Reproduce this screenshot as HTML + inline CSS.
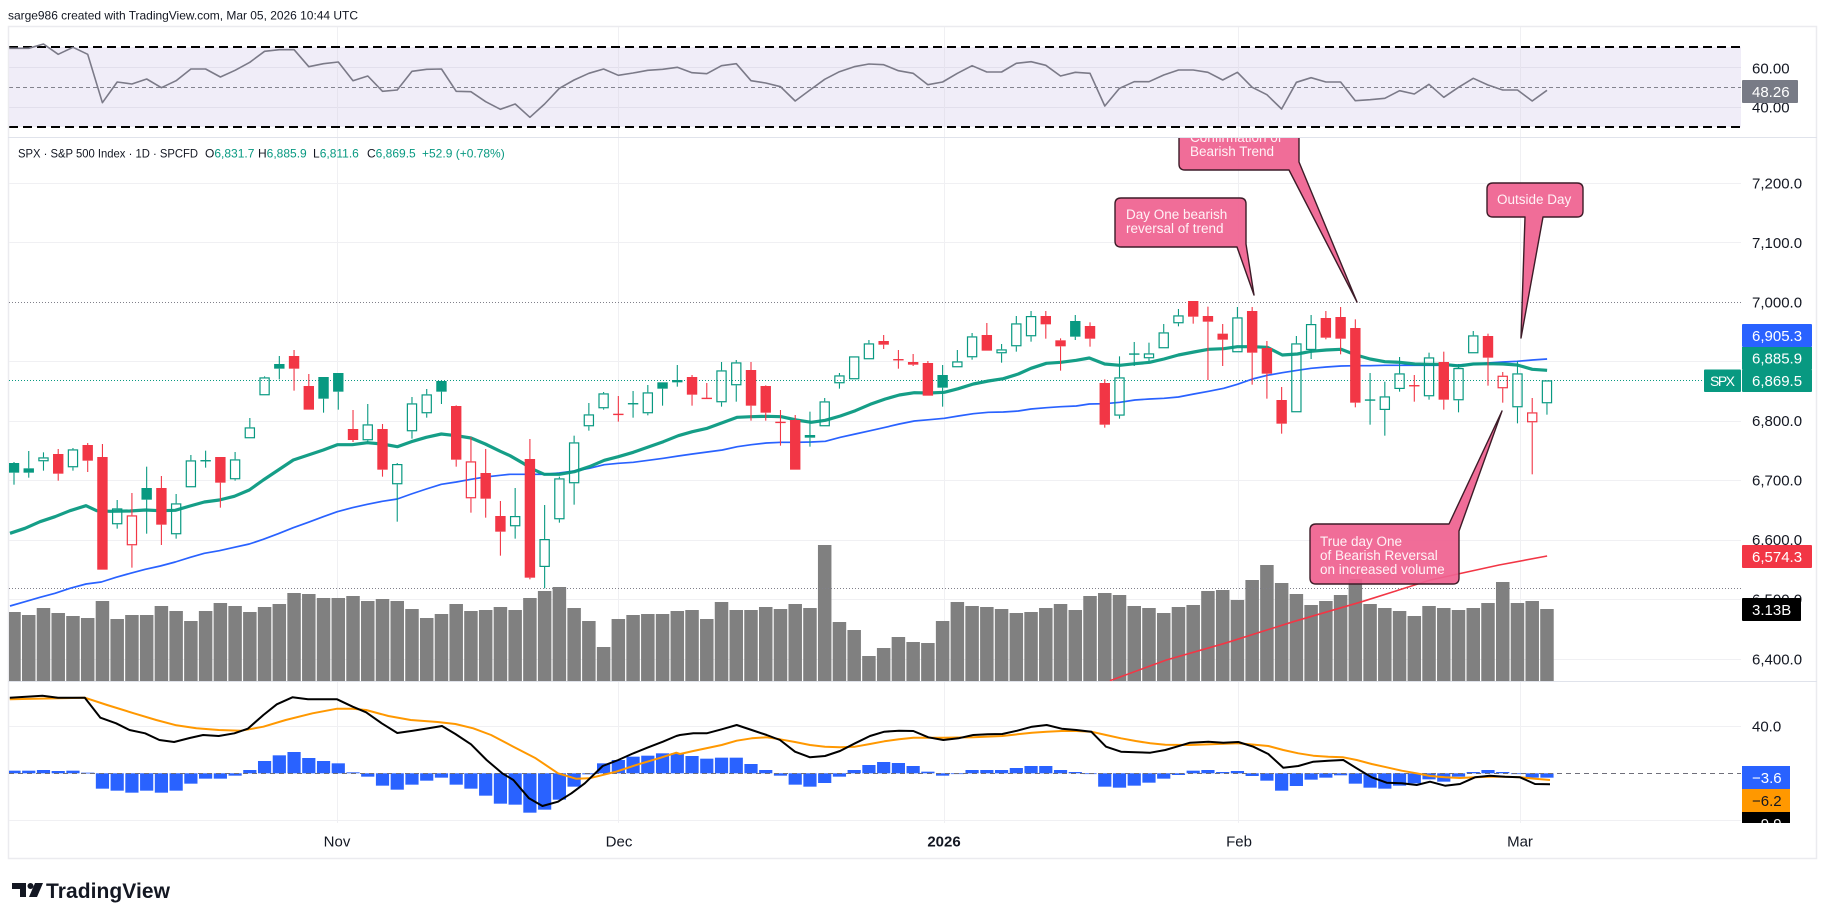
<!DOCTYPE html>
<html><head><meta charset="utf-8">
<style>
html,body{margin:0;padding:0;background:#fff;}
body{width:1827px;height:920px;overflow:hidden;}
svg{display:block;font-family:"Liberation Sans",Arial,sans-serif;}
</style></head><body>
<svg id="c" width="1827" height="920" viewBox="0 0 1827 920" xmlns="http://www.w3.org/2000/svg">
<rect width="1827" height="920" fill="#fff"/>
<defs>
<clipPath id="cpR"><rect x="9" y="27" width="1732" height="110"/></clipPath>
<clipPath id="cpM"><rect x="9" y="138" width="1732" height="543"/></clipPath>
<clipPath id="cpD"><rect x="9" y="682" width="1732" height="141"/></clipPath>
<clipPath id="cpB"><rect x="1742" y="812" width="60" height="11"/></clipPath>
</defs>

<text x="8" y="19.5" font-size="12" fill="#131722" textLength="350">sarge986 created with TradingView.com, Mar 05, 2026 10:44 UTC</text>

<!-- vertical grid -->
<g stroke="#f0f0f3" stroke-width="1">
<line x1="337.5" y1="27" x2="337.5" y2="823"/>
<line x1="618.5" y1="27" x2="618.5" y2="823"/>
<line x1="944.5" y1="27" x2="944.5" y2="823"/>
<line x1="1238.5" y1="27" x2="1238.5" y2="823"/>
<line x1="1520.5" y1="27" x2="1520.5" y2="823"/>
</g>

<!-- RSI pane -->
<g clip-path="url(#cpR)">
<rect x="9" y="47" width="1732" height="80" fill="#f0edf8"/>
<line x1="9" y1="67.5" x2="1741" y2="67.5" stroke="#e2dfec"/>
<line x1="9" y1="107.5" x2="1741" y2="107.5" stroke="#e2dfec"/>
<line x1="337.5" y1="47" x2="337.5" y2="127" stroke="#e6e3ee"/>
<line x1="618.5" y1="47" x2="618.5" y2="127" stroke="#e6e3ee"/>
<line x1="944.5" y1="47" x2="944.5" y2="127" stroke="#e6e3ee"/>
<line x1="1238.5" y1="47" x2="1238.5" y2="127" stroke="#e6e3ee"/>
<line x1="1520.5" y1="47" x2="1520.5" y2="127" stroke="#e6e3ee"/>
<line x1="9" y1="87.5" x2="1741" y2="87.5" stroke="#83838e" stroke-dasharray="4 3"/>
<line x1="9" y1="47" x2="1741" y2="47" stroke="#000" stroke-width="2" stroke-dasharray="9 5"/>
<line x1="9" y1="127" x2="1741" y2="127" stroke="#000" stroke-width="2" stroke-dasharray="9 5"/>
<polyline id="rsi" fill="none" stroke="#7b7a88" stroke-width="1.6" stroke-linejoin="round"/>
</g>

<!-- frame & separators -->
<rect x="8.5" y="26.5" width="1808" height="832" fill="none" stroke="#ebebef" stroke-width="1.5"/>
<line x1="8" y1="137.5" x2="1817" y2="137.5" stroke="#e0e3eb"/>
<line x1="8" y1="681.5" x2="1817" y2="681.5" stroke="#e0e3eb"/>

<!-- main pane -->
<g clip-path="url(#cpM)">
<g stroke="#f0f0f3" stroke-width="1">
<line x1="9" y1="183.5" x2="1741" y2="183.5"/>
<line x1="9" y1="242.5" x2="1741" y2="242.5"/>
<line x1="9" y1="361.5" x2="1741" y2="361.5"/>
<line x1="9" y1="421.5" x2="1741" y2="421.5"/>
<line x1="9" y1="480.5" x2="1741" y2="480.5"/>
<line x1="9" y1="540.5" x2="1741" y2="540.5"/>
<line x1="9" y1="599.5" x2="1741" y2="599.5"/>
<line x1="9" y1="659.5" x2="1741" y2="659.5"/>
</g>
<g id="vol"></g>
<line x1="9" y1="302.5" x2="1741" y2="302.5" stroke="#80808a" stroke-dasharray="1 2"/>
<line x1="9" y1="588.5" x2="1741" y2="588.5" stroke="#80808a" stroke-dasharray="1 2"/>
<line x1="9" y1="380.5" x2="1704" y2="380.5" stroke="#089981" stroke-dasharray="1 2"/>
<polyline id="blue" fill="none" stroke="#2962FF" stroke-width="1.7" stroke-linejoin="round"/>
<polyline id="green" fill="none" stroke="#089981" stroke-width="3.2" stroke-linejoin="round" stroke-opacity="0.95"/>
<polyline id="red" fill="none" stroke="#F23645" stroke-width="1.6" stroke-linejoin="round"/>
<g id="candles"></g>

<!-- callouts -->
<g fill="#ef6290" fill-opacity="0.93" stroke="#3d1c28" stroke-width="1.4" stroke-linejoin="round">
<path d="M1185,110 H1293 Q1299,110 1299,116 V162 L1357,302 L1289,170 H1185 Q1179,170 1179,164 V116 Q1179,110 1185,110 Z"/>
<path d="M1121,198 H1240 Q1246,198 1246,204 V244 L1254,295 L1237,247 H1121 Q1115,247 1115,241 V204 Q1115,198 1121,198 Z"/>
<path d="M1493,183 H1577 Q1583,183 1583,189 V211 Q1583,217 1577,217 H1543 L1521,338 L1525,217 H1493 Q1487,217 1487,211 V189 Q1487,183 1493,183 Z"/>
<path d="M1316,524 H1449 L1502,411 L1459,531 V578 Q1459,584 1453,584 H1316 Q1310,584 1310,578 V530 Q1310,524 1316,524 Z"/>
</g>
<g font-size="13.5" fill="#fff2f6">
<text x="1190" y="142">Confirmation of</text>
<text x="1190" y="156">Bearish Trend</text>
<text x="1126" y="219">Day One bearish</text>
<text x="1126" y="233">reversal of trend</text>
<text x="1497" y="204">Outside Day</text>
<text x="1320" y="546">True day One</text>
<text x="1320" y="560">of Bearish Reversal</text>
<text x="1320" y="574">on increased volume</text>
</g>
</g>

<!-- legend -->
<text x="18" y="157.5" font-size="12" fill="#131722" textLength="180" lengthAdjust="spacingAndGlyphs">SPX · S&amp;P 500 Index · 1D · SPCFD</text>
<text y="157.5" font-size="12" fill="#131722"><tspan x="205">O</tspan><tspan fill="#089981">6,831.7</tspan><tspan x="258">H</tspan><tspan fill="#089981">6,885.9</tspan><tspan x="313">L</tspan><tspan fill="#089981">6,811.6</tspan><tspan x="367">C</tspan><tspan fill="#089981">6,869.5</tspan><tspan x="422" fill="#089981">+52.9 (+0.78%)</tspan></text>

<!-- MACD pane -->
<g clip-path="url(#cpD)">
<line x1="9" y1="726.5" x2="1741" y2="726.5" stroke="#f0f0f3"/>
<line x1="9" y1="820.5" x2="1741" y2="820.5" stroke="#f0f0f3"/>
<g id="hist"></g>
<line x1="9" y1="773.5" x2="1741" y2="773.5" stroke="#6f6f7a" stroke-dasharray="5 4"/>
<polyline id="sig" fill="none" stroke="#FF9800" stroke-width="2" stroke-linejoin="round"/>
<polyline id="macd" fill="none" stroke="#000" stroke-width="2" stroke-linejoin="round"/>
</g>

<!-- axis labels -->
<g font-size="15" fill="#131722">
<text x="1752" y="73.5">60.00</text>
<text x="1752" y="112.5">40.00</text>
<text x="1752" y="188.5">7,200.0</text>
<text x="1752" y="248">7,100.0</text>
<text x="1752" y="307.5">7,000.0</text>
<text x="1752" y="426">6,800.0</text>
<text x="1752" y="485.5">6,700.0</text>
<text x="1752" y="545">6,600.0</text>
<text x="1752" y="604.5">6,500.0</text>
<text x="1752" y="664.5">6,400.0</text>
<text x="1752" y="731.5">40.0</text>
</g>

<!-- price tags -->
<rect x="1742" y="80" width="56" height="23" fill="#787b86" rx="1"/>
<text x="1752" y="97" font-size="15" fill="#fff">48.26</text>

<rect x="1742" y="324" width="70" height="23" fill="#2962FF" rx="1"/>
<text x="1752" y="341" font-size="15" fill="#fff">6,905.3</text>
<rect x="1742" y="347" width="70" height="22.5" fill="#089981"/>
<text x="1752" y="363.5" font-size="15" fill="#fff">6,885.9</text>
<rect x="1742" y="369.5" width="70" height="22.5" fill="#089981" rx="1"/>
<text x="1752" y="386" font-size="15" fill="#fff">6,869.5</text>
<rect x="1704" y="369.5" width="37" height="22.5" fill="#089981" rx="1"/>
<text x="1710" y="386" font-size="14" fill="#fff" textLength="25">SPX</text>

<rect x="1742" y="545" width="70" height="23" fill="#F23645" rx="1"/>
<text x="1752" y="562" font-size="15" fill="#fff">6,574.3</text>
<rect x="1742" y="598" width="59" height="23" fill="#000" rx="1"/>
<text x="1752" y="615" font-size="15" fill="#fff">3.13B</text>

<rect x="1742" y="766" width="48" height="23" fill="#2962FF"/>
<text x="1752" y="783" font-size="15" fill="#fff">−3.6</text>
<rect x="1742" y="789" width="48" height="23" fill="#FF9800"/>
<text x="1752" y="806" font-size="15" fill="#131722">−6.2</text>
<g clip-path="url(#cpB)">
<rect x="1742" y="812" width="48" height="23" fill="#000"/>
<text x="1752" y="829" font-size="15" fill="#fff">−9.9</text>
</g>

<!-- time axis -->
<g font-size="15" fill="#131722" text-anchor="middle">
<text x="337" y="846.5">Nov</text>
<text x="619" y="846.5">Dec</text>
<text x="944" y="846.5" font-weight="bold">2026</text>
<text x="1239" y="846.5">Feb</text>
<text x="1520" y="846.5">Mar</text>
</g>

<!-- logo -->
<g fill="#131722">
<path d="M12,883 H26 V897 H20 V889 H12 Z"/>
<circle cx="30.5" cy="886" r="3"/>
<path d="M35,883 H43 L37,897 H29 Z"/>
</g>
<text x="46" y="898" font-size="21" font-weight="bold" fill="#131722" textLength="124">TradingView</text>
</svg>

<script>
(function(){
var NS="http://www.w3.org/2000/svg";
function el(t,a,p){var e=document.createElementNS(NS,t);for(var k in a)e.setAttribute(k,a[k]);p.appendChild(e);return e;}
function X(i){return 14+14.74*i;}
function Y(z){return 290+z/3;}
function pts(a){return a.map(function(p){return p[0].toFixed(1)+","+p[1].toFixed(1);}).join(" ");}

var C=[
["gf",516,519,548,584],["gf",483,535,548,563],["gh",487,502,514,542],["rf",477,492,551,572],["gh",474,478,532,542],
["rf",459,465,512,546],["rf",462,501,839,839],["gh",630,655,703,716],["rh",609,676,766,833],["gf",530,594,629,731],
["rf",558,594,704,765],["gh",612,640,733,746],["gh",495,511,592,592],["gh",482,511,512,533],["rf",501,501,578,653],
["gh",486,508,568,572],["gh",384,412,445,445],["gh",259,262,316,316],["gf",198,222,236,268],["rf",180,198,236,302],
["rf",252,288,359,359],["gf",261,261,326,368],["gf",249,249,305,359],["rf",360,417,450,456],["gh",342,403,451,456],
["rf",402,417,539,560],["gh",519,522,583,695],["gh",321,340,424,446],["gh",297,313,370,383],["gf",270,273,305,342],
["rf",346,348,509,530],["rh",441,514,625,668],["rf",477,549,626,683],["rf",633,678,725,797],["gh",594,678,709,746],
["rf",447,507,863,868],["gh",645,747,831,895],["gh",560,565,688,698],["gh",437,457,580,644],["gh",339,373,409,422],
["gh",306,310,355,359],["rf",318,372,374,395],["gf",303,340,341,383],["gh",285,307,370,376],["gf",277,277,296,347],
["gh",225,270,277,290],["rf",255,261,314,347],["rf",279,324,327,327],["gh",216,241,337,350],["gh",210,217,286,335],
["rf",216,240,347,392],["rf",286,288,368,392],["rf",360,396,398,467],["rf",375,390,539,539],["gf",365,435,443,470],
["gh",324,334,409,409],["gh",249,256,280,296],["gh",199,199,268,268],["gh",150,160,208,208],["rf",135,153,164,177],
["rf",180,208,212,236],["rf",192,216,224,228],["rf",213,219,317,317],["gf",225,255,293,350],["gh",180,214,232,232],
["gh",129,139,202,209],["rf",99,135,182,182],["gh",162,178,190,218],["gh",78,100,169,185],["gh",63,78,139,155],
["rf",63,78,103,146],["rf",145,151,169,242],["gf",75,93,140,150],["rf",97,108,146,170],["rf",268,279,404,413],
["gh",199,262,377,386],["gf",156,191,193,228],["gh",158,190,205,213],["gh",102,127,175,175],["gh",57,76,100,109],
["rf",33,33,80,101],["rf",50,78,95,270],["rf",102,131,149,228],["gh",51,82,187,187],["rf",51,63,188,284],
["rf",153,174,251,326],["rf",291,330,401,431],["gh",138,160,367,367],["gh",75,102,180,207],["rf",63,84,143,148],
["rf",51,81,146,193],["rf",88,114,338,352],["gf",249,329,333,404],["gh",275,319,360,437],["gh",201,250,297,305],
["rf",255,286,288,335],["gh",188,202,319,329],["rf",185,216,329,359],["gh",222,234,331,367],["gh",123,136,190,190],
["rf",131,138,203,287],["rh",246,257,295,338],["gh",214,250,352,400],["rh",324,367,397,553],["gh",271,271,340,374]
];

var V=[966,975,954,969,978,984,933,987,975,975,948,963,993,963,939,948,966,951,942,909,912,924,924,918,933,927,933,957,984,972,942,963,960,951,960,
924,903,891,954,993,1071,987,975,972,972,963,960,987,936,960,960,951,957,942,954,765,996,1020,1098,1074,1041,1056,1059,993,936,948,951,957,969,
966,954,942,960,918,909,915,948,954,969,951,945,903,900,930,870,825,879,912,945,933,915,867,942,954,963,978,948,954,960,954,939,876,939,933,957];

var vg=document.getElementById('vol');
for(var i=0;i<V.length;i++){
  var x=X(i), yt=Y(V[i]);
  el('rect',{x:(x-6.75).toFixed(2),y:yt.toFixed(2),width:13.5,height:(681-yt).toFixed(2),fill:'#808080'},vg);
}

var cg=document.getElementById('candles');
for(var i=0;i<C.length;i++){
  var c=C[i],t=c[0],x=X(i),col=t[0]=='g'?'#089981':'#F23645';
  var yt=Y(c[1]),ybt=Y(c[2]),ybb=Y(c[3]),ywb=Y(c[4]),w=10.4;
  if(ybb-ybt<1.6){
    el('line',{x1:x,x2:x,y1:yt,y2:ywb,stroke:col,'stroke-width':1.1},cg);
    el('rect',{x:x-w/2,y:ybt-0.3,width:w,height:Math.max(1.4,ybb-ybt),fill:col},cg);
    continue;
  }
  if(ybt-yt>0.3) el('line',{x1:x,x2:x,y1:yt,y2:ybt,stroke:col,'stroke-width':1.1},cg);
  if(ywb-ybb>0.3) el('line',{x1:x,x2:x,y1:ybb,y2:ywb,stroke:col,'stroke-width':1.1},cg);
  if(t[1]=='h') el('rect',{x:x-w/2+0.6,y:ybt+0.6,width:w-1.2,height:ybb-ybt-1.2,fill:'none',stroke:col,'stroke-width':1.2},cg);
  else el('rect',{x:x-w/2,y:ybt,width:w,height:ybb-ybt,fill:col},cg);
}

function z5(a){return a.map(function(p){return [p[0]/3,290+p[1]/3];});}
function z6(a){return a.map(function(p){return [510+p[0]/3,290+p[1]/3];});}
function z7(a){return a.map(function(p){return [1031+(p[0]-35)*0.3429,290+p[1]/3];});}

var G=z5([[30,730],[75,715],[120,695],[165,680],[210,662],[258,647],[290,662],[330,664],[390,663],[436,660],[480,662],[526,661],[570,648],[613,636],[658,630],[703,619],[748,600],[790,570],[835,540],[880,510],[925,495],[970,480],[1012,464],[1057,464],[1102,458],[1147,462],[1192,470],[1234,455],[1279,442],[1324,432],[1369,437],[1413,444],[1456,462],[1501,484]])
.concat(z6([[0,497],[40,520],[62,535],[103,553],[148,553],[193,545],[238,530],[283,511],[325,500],[370,487],[415,471],[460,455],[505,437],[547,425],[592,415],[637,398],[682,382],[724,380],[769,379],[814,380],[859,390],[904,397],[946,391],[991,378],[1036,362],[1081,343],[1126,327],[1168,315],[1213,308],[1258,309],[1303,307],[1345,296],[1390,282],[1435,273],[1480,266],[1525,252]]))
.concat(z7([[35,235],[80,220],[122,217],[167,211],[205,204],[250,222],[294,226],[338,221],[381,217],[423,207],[465,195],[510,186],[553,178],[597,176],[637,170],[681,170],[724,172],[768,195],[812,192],[852,184],[896,180],[939,178],[983,195],[1024,207],[1067,215],[1110,217],[1154,222],[1198,223],[1238,223],[1282,228],[1325,222],[1369,221],[1412,222],[1453,225],[1497,238],[1540,241]]));
document.getElementById('green').setAttribute('points',pts(G));

var B=z5([[30,948],[75,935],[120,922],[165,910],[210,895],[258,882],[304,876],[348,862],[391,850],[436,838],[481,828],[526,816],[571,802],[613,790],[658,782],[703,772],[748,762],[790,748],[835,731],[880,713],[925,697],[970,680],[1012,665],[1057,653],[1102,643],[1147,634],[1192,627],[1234,612],[1279,597],[1324,583],[1369,576],[1413,568],[1456,561],[1501,556]])
.concat(z6([[0,553],[62,553],[103,553],[148,549],[193,543],[238,535],[283,524],[325,520],[370,517],[415,511],[460,505],[505,498],[547,492],[592,486],[637,480],[682,470],[724,464],[769,459],[814,457],[859,457],[904,456],[946,454],[991,442],[1036,432],[1081,422],[1126,412],[1168,402],[1213,393],[1258,389],[1303,385],[1345,378],[1390,371],[1435,367],[1480,366],[1525,363]]))
.concat(z7([[35,357],[80,353],[122,350],[167,348],[205,342],[250,341],[294,337],[338,330],[381,327],[423,325],[465,321],[510,312],[553,304],[597,295],[637,283],[681,267],[724,256],[768,248],[812,241],[852,235],[896,231],[939,228],[983,227],[1024,227],[1067,226],[1110,226],[1154,226],[1198,226],[1238,226],[1282,225],[1325,222],[1369,219],[1412,216],[1453,214],[1497,210],[1540,207]]));
document.getElementById('blue').setAttribute('points',pts(B));

var Rd=z7([[265,1172],[430,1110],[600,1060],[800,995],[1000,935],[1200,870],[1400,825],[1540,798]]);
document.getElementById('red').setAttribute('points',pts(Rd));

var R=[55,55,42,73,52,73,218,156,162,147,173,152,117,117,141,121,97,64,59,59,110,101,96,152,138,184,180,124,118,117,184,185,215,238,222,262,222,175,150,130,117,136,129,121,118,112,128,131,107,101,152,159,170,213,180,148,125,110,
102,104,122,130,164,156,130,107,126,126,100,95,106,138,127,130,228,175,155,155,135,120,120,127,150,127,172,194,237,157,143,156,156,212,209,205,182,192,163,202,172,145,165,180,180,213,181];
var RP=[[9,30+55/3]];
for(var i=0;i<R.length;i++) RP.push([X(i),30+R[i]/3]);
document.getElementById('rsi').setAttribute('points',pts(RP));

var H4=[332,332,330,333,332,338,386,392,398,392,398,392,371,356,356,347,330,303,286,276,294,303,310,337,350,377,389,374,362,353,374,386,407,431,434,458,449,419,380,343,310,300,290,287,280,280,288];
var H9=[236,233,233,252,270,287,314,320,309,290,270,255,246,249,258,275,287,280,270,270,270,264,258,258,270,276,281,320,323,317,308,296,285];
var H10=[272,270,276,273,288,302,332,318,299,293,286,311,323,326,317,310,298,305,290,276,270,276,282,293,293];
var HY=[];
H4.forEach(function(v){HY.push(660+v/3);});
H9.forEach(function(v){HY.push(680+v/3);});
H10.forEach(function(v){HY.push(680+v/3);});
var hg=document.getElementById('hist'), z0=773.3;
for(var i=0;i<HY.length;i++){
  var y=HY[i], top=Math.min(y,z0), h=Math.max(0.8,Math.abs(y-z0));
  el('rect',{x:(X(i)-6.6).toFixed(2),y:top.toFixed(2),width:13.2,height:h.toFixed(2),fill:'#2962FF'},hg);
}

function z4(a){return a.map(function(p){return [p[0]/2.24,660+p[1]/3];});}
function z9(a){return a.map(function(p){return [680+p[0]/3,680+p[1]/3];});}
function z10(a){return a.map(function(p){return [1190+p[0]/3,680+p[1]/3];});}

var M=z4([[22,113],[95,107],[130,113],[190,113],[225,173],[260,190],[290,210],[325,220],[357,240],[390,246],[425,234],[455,225],[490,228],[525,220],[555,206],[590,165],[620,133],[655,112],[690,118],[720,118],[755,118],[790,140],[820,157],[855,190],[890,219],[925,212],[960,205],[990,198],[1020,222],[1055,253],[1090,300],[1125,340],[1150,360],[1185,415],[1215,438],[1250,425],[1280,400],[1310,370],[1350,318],[1385,300],[1415,282],[1450,263],[1485,245],[1515,228]])
.concat(z9([[0,165],[40,160],[80,160],[125,148],[170,135],[215,150],[260,165],[300,180],[345,215],[390,232],[435,228],[480,213],[525,190],[570,168],[613,155],[657,152],[700,153],[745,172],[790,180],[835,175],[880,165],[923,163],[967,162],[1012,152],[1056,140],[1100,135],[1145,146],[1189,150],[1234,155],[1278,200],[1323,215],[1367,217],[1411,218],[1456,210],[1500,197]]))
.concat(z10([[0,188],[55,185],[100,188],[145,186],[190,200],[235,222],[280,263],[325,258],[370,245],[415,242],[460,240],[500,265],[545,292],[590,308],[635,310],[680,315],[720,305],[765,317],[810,312],[855,292],[900,287],[945,290],[990,292],[1035,312],[1080,313]]));
document.getElementById('macd').setAttribute('points',pts(M));

var S=z4([[22,118],[190,113],[240,135],[300,160],[350,180],[395,196],[440,205],[490,210],[540,212],[590,200],[640,180],[700,160],[755,146],[790,146],[820,150],[870,168],[920,180],[980,186],[1020,192],[1060,205],[1100,225],[1150,260],[1200,295],[1250,340],[1290,356],[1320,355],[1380,335],[1430,313],[1480,293],[1515,278]])
.concat(z9([[0,222],[40,213],[125,195],[170,182],[215,175],[260,172],[300,178],[345,186],[390,195],[435,200],[480,202],[525,200],[570,192],[613,184],[657,178],[700,173],[790,173],[880,172],[967,168],[1012,163],[1056,158],[1100,155],[1145,153],[1189,153],[1234,155],[1278,165],[1323,175],[1367,183],[1411,190],[1456,194]]))
.concat(z10([[0,195],[145,190],[235,198],[280,210],[325,220],[370,227],[415,230],[460,232],[500,240],[545,252],[590,262],[635,272],[680,280],[720,288],[765,292],[810,294],[855,292],[900,290],[945,290],[990,292],[1035,296],[1080,300]]));
document.getElementById('sig').setAttribute('points',pts(S));
})();
</script>
</body></html>
